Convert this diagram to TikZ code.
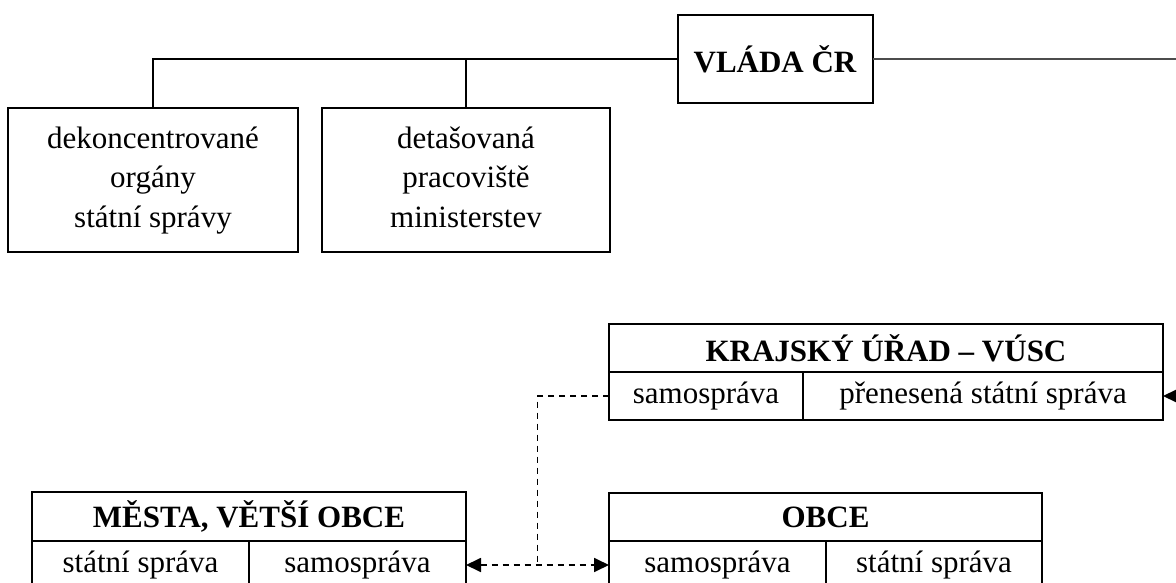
\documentclass[tikz,border=0pt]{standalone}
\usepackage{fontspec}
\setmainfont{Liberation Serif}
\usetikzlibrary{arrows.meta,calc,positioning}

\tikzset{
  box/.style={draw, line width=2pt, inner sep=0pt, outer sep=0pt, align=center,
    font=\fontsize{31}{39.5}\selectfont},
  head/.style={box, font=\bfseries\fontsize{31}{39.5}\selectfont},
  link/.style={line width=2pt},
  dlink/.style={line width=1.8pt, dash pattern=on 6pt off 5pt},
  tip/.style={>={Triangle[length=15pt,width=14pt]}},
}

\begin{document}
\begin{tikzpicture}[x=1pt, y=-1pt, tip]
  \useasboundingbox (0,0) rectangle (1176,583);
  \clip (0,0) rectangle (1176,583);
  % Government and its direct branches.
  \node[head, minimum width=195pt, minimum height=88pt] (vlada) at (775,59) {VLÁDA ČR};
  \node[box, minimum width=290pt, minimum height=144pt] (dekonc) at (153,180) {\strut dekoncentrované\\orgány\\státní správy\strut};
  \node[box, minimum width=288pt, minimum height=144pt] (detas) at (466,180) {\strut detašovaná\\pracoviště\\ministerstev\strut};
  \coordinate (vladaout) at (1176,59);
  \draw[link] (vlada.west) -| (dekonc.north);
  \draw[link] (detas.north) -- (detas.north |- vlada.west);
  \draw[link, line width=2.4pt, draw=black!70] (vlada.east) -- (vladaout);
  % Regional office with its two halves.
  \node[head, minimum width=554pt, minimum height=48pt] (kraj) at (886,348) {KRAJSKÝ ÚŘAD – VÚSC};
  \node[box, minimum width=194pt, minimum height=48pt, anchor=north west] (krajsam) at (kraj.south west) {samospráva};
  \node[box, minimum width=360pt, minimum height=48pt, anchor=north east] (krajstat) at (kraj.south east) {přenesená státní správa};
  \coordinate (krajin) at (1176,396);
  \draw[link, ->] (krajin) -- (krajstat.east);
  % Towns and municipalities.
  \node[head, minimum width=434pt, minimum height=49pt] (mesta) at (249,516.5) {MĚSTA, VĚTŠÍ OBCE};
  \node[box, minimum width=217pt, minimum height=48pt, anchor=north west] (mestastat) at (mesta.south west) {státní správa};
  \node[box, minimum width=217pt, minimum height=48pt, anchor=north east] (mestasam) at (mesta.south east) {samospráva};
  \node[head, minimum width=433pt, minimum height=48pt] (obce) at (825.5,517) {OBCE};
  \node[box, minimum width=217pt, minimum height=48pt, anchor=north west] (obcesam) at (obce.south west) {samospráva};
  \node[box, minimum width=216pt, minimum height=48pt, anchor=north east] (obcestat) at (obce.south east) {státní správa};
  % Dashed links between the self-government parts.
  \coordinate (junction) at ($(mestasam.east)!0.5!(obcesam.west)$);
  \draw[dlink, <->] (mestasam.east) -- (obcesam.west);
  \draw[dlink] (krajsam.west) -| (junction);
\end{tikzpicture}
\end{document}
